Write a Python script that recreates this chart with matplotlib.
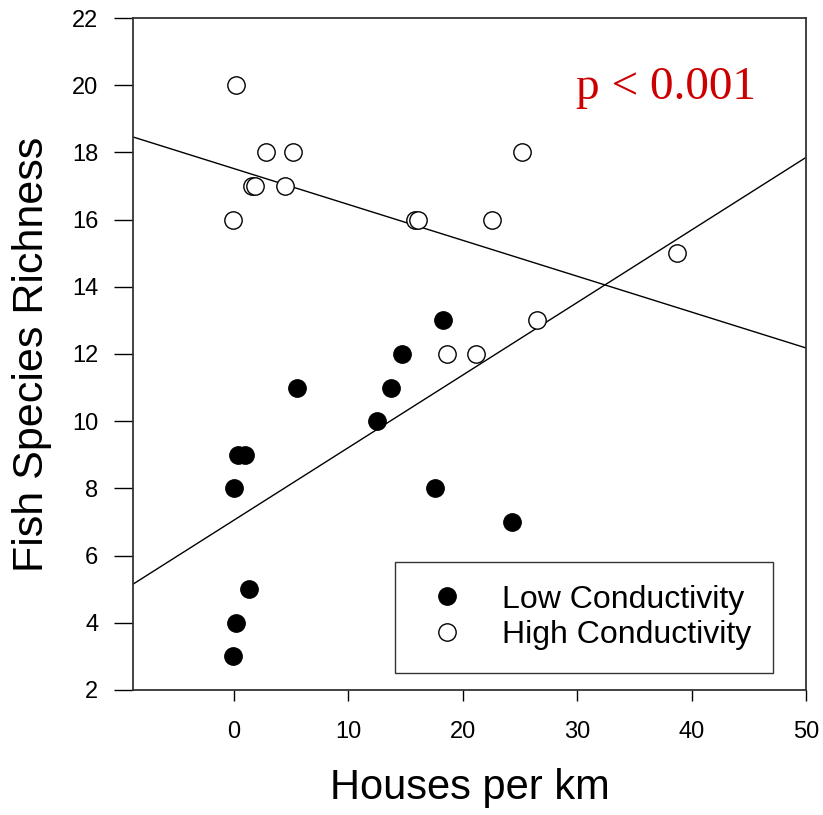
import numpy as np
import matplotlib
matplotlib.use('Agg')
import matplotlib.pyplot as plt
from matplotlib.lines import Line2D

plt.rcParams['font.family'] = ['Liberation Sans', 'DejaVu Sans']

# houses per km vs. species count, split by stream conductivity
low_x = [-0.1, 0.2, 1.3, 0.0, 0.4, 1.0, 5.5, 12.5, 13.7, 14.7, 18.3, 17.6, 24.3]
low_y = [3, 4, 5, 8, 9, 9, 11, 10, 11, 12, 13, 8, 7]
high_x = [0.2, -0.1, 1.6, 1.9, 2.8, 5.2, 4.5, 15.8, 16.1, 22.6, 25.2, 18.6, 21.2, 26.5, 38.7]
high_y = [20, 16, 17, 17, 18, 18, 17, 16, 16, 16, 18, 12, 12, 13, 15]

# fitted lines (intercept, slope)
low_fit = (7.05, 0.216)
high_fit = (17.52, -0.1068)

xlim = (-8.8, 50)
ylim = (2, 22)
xticks = [0, 10, 20, 30, 40, 50]
yticks = [2, 4, 6, 8, 10, 12, 14, 16, 18, 20, 22]

fig = plt.figure(figsize=(8.23, 8.15), dpi=100)
ax = fig.add_axes([0.1616, 0.1534, 0.8177, 0.8245])

xs = np.array(xlim)
ax.plot(xs, low_fit[0] + low_fit[1] * xs, color='black', lw=1.0, zorder=2)
ax.plot(xs, high_fit[0] + high_fit[1] * xs, color='black', lw=1.0, zorder=2)

ax.plot(low_x, low_y, 'o', ms=12.5, mfc='black', mec='black', mew=1.0,
        ls='none', zorder=3)
ax.plot(high_x, high_y, 'o', ms=12.5, mfc='white', mec='black', mew=1.0,
        ls='none', zorder=3)

ax.set_xlim(xlim)
ax.set_ylim(ylim)
ax.set_xticks(xticks)
ax.set_yticks(yticks)
ax.tick_params(direction='out', width=1.0, labelsize=17)
ax.tick_params(axis='x', length=8, pad=14)
ax.tick_params(axis='y', length=14, pad=11)
for sp in ax.spines.values():
    sp.set_linewidth(1.3)
    sp.set_color('#333333')

ax.set_xlabel('Houses per km', fontsize=30, labelpad=18)
ax.set_ylabel('Fish Species Richness', fontsize=31, labelpad=14)

ax.text(0.658, 0.88, 'p < 0.001', transform=ax.transAxes, color='#cc0000',
        fontsize=34, family=['Liberation Serif', 'DejaVu Serif'],
        ha='left', va='baseline')

handles = [
    Line2D([], [], marker='o', ls='none', ms=12.5, mfc='black', mec='black'),
    Line2D([], [], marker='o', ls='none', ms=12.5, mfc='white', mec='black'),
]
leg = ax.legend(handles, ['Low Conductivity', 'High Conductivity'],
                loc='lower left', bbox_to_anchor=(0.389, 0.0253, 0.562, 0.171),
                mode='expand', fontsize=23, frameon=True, fancybox=False,
                borderpad=0.72, labelspacing=0.17, handlelength=1.85,
                handletextpad=0.8, borderaxespad=0.0)
leg.get_frame().set_edgecolor('black')
leg.get_frame().set_linewidth(1.0)

fig.savefig('out.png', dpi=100)
plt.close(fig)
